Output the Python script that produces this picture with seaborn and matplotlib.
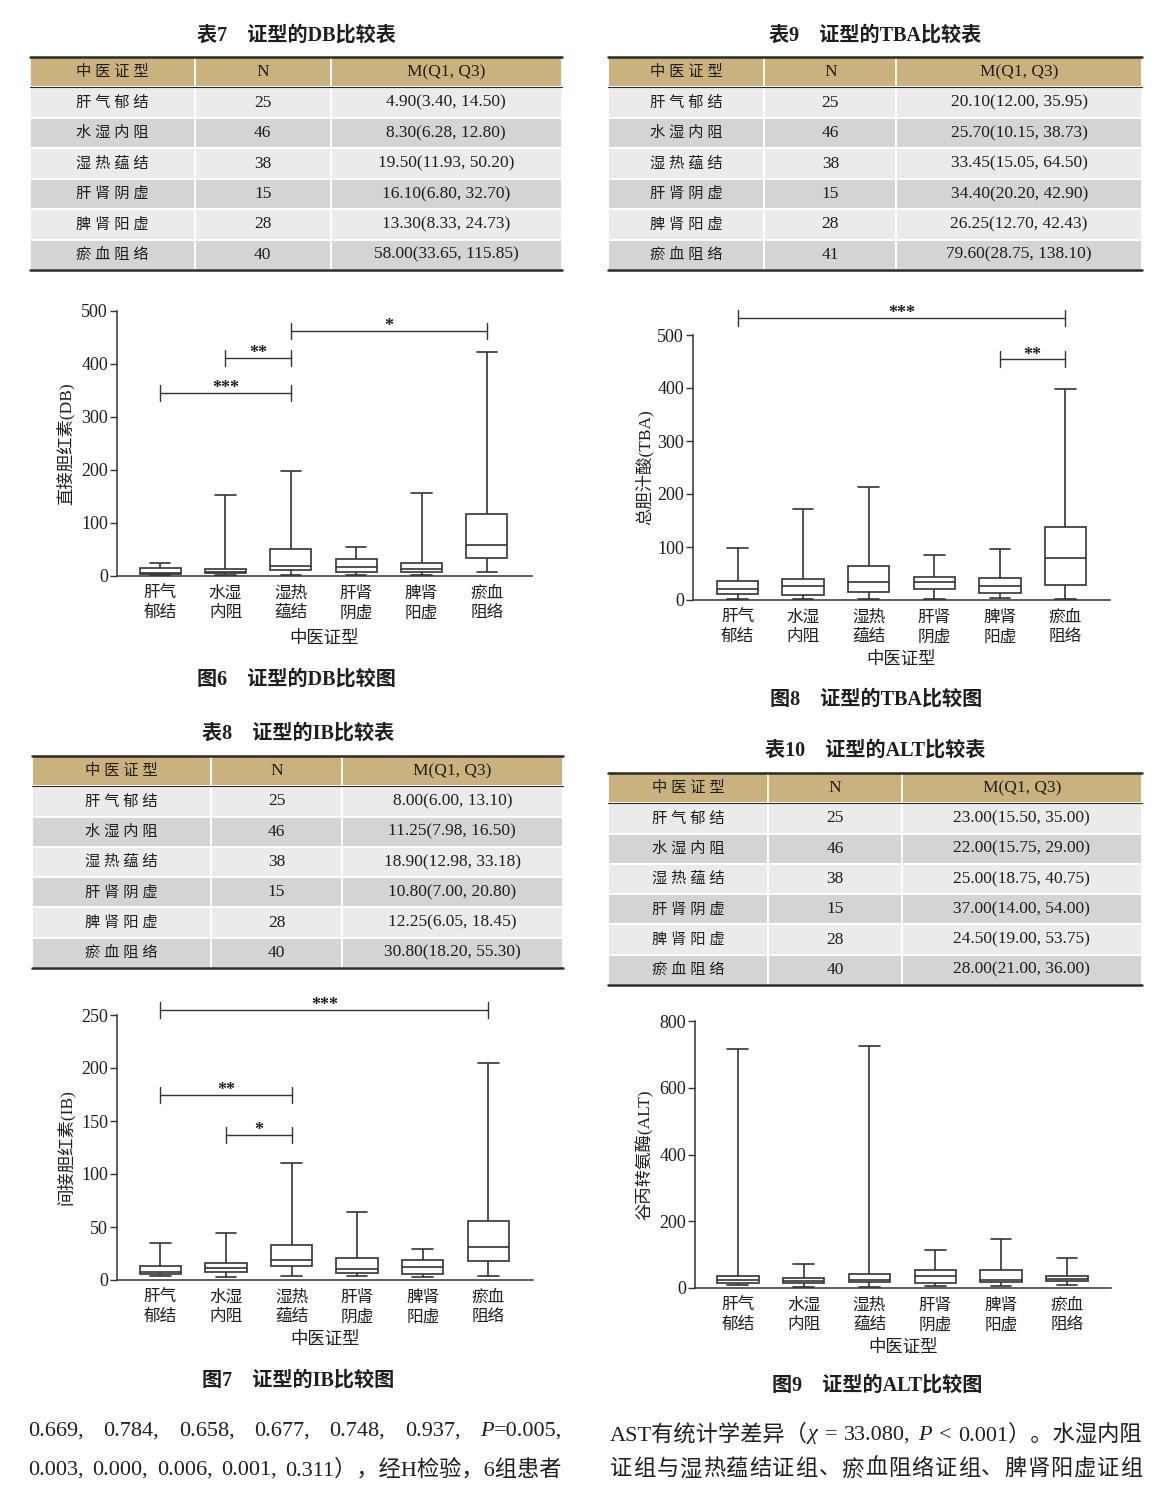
import matplotlib
matplotlib.use("Agg")
import matplotlib.pyplot as plt
import numpy as np
import pandas as pd
import seaborn as sns

groups = ["肝气郁结", "水湿内阻", "湿热蕴结", "肝肾阴虚", "脾肾阳虚", "瘀血阻络"]

# 表7 / 图6  DB
db_n = [25, 46, 38, 15, 28, 40]
db_med = [4.90, 8.30, 19.50, 16.10, 13.30, 58.00]
db_q1 = [3.40, 6.28, 11.93, 6.80, 8.33, 33.65]
db_q3 = [14.50, 12.80, 50.20, 32.70, 24.73, 115.85]
db_min = [1.5, 1.5, 2.0, 2.0, 2.0, 7.5]
db_max = [25, 152, 198, 55, 156, 421]
db_sig = [(0, 2, 345, "***"), (1, 2, 411, "**"), (2, 5, 462, "*")]

# 表8 / 图7  IB
ib_n = [25, 46, 38, 15, 28, 40]
ib_med = [8.00, 11.25, 18.90, 10.80, 12.25, 30.80]
ib_q1 = [6.00, 7.98, 12.98, 7.00, 6.05, 18.20]
ib_q3 = [13.10, 16.50, 33.18, 20.80, 18.45, 55.30]
ib_min = [4, 3, 4, 4, 2.5, 4]
ib_max = [35, 44, 110, 64, 29, 205]
ib_sig = [(0, 5, 255, "***"), (0, 2, 175, "**"), (1, 2, 137, "*")]

# 表9 / 图8  TBA
tba_n = [25, 46, 38, 15, 28, 41]
tba_med = [20.10, 25.70, 33.45, 34.40, 26.25, 79.60]
tba_q1 = [12.00, 10.15, 15.05, 20.20, 12.70, 28.75]
tba_q3 = [35.95, 38.73, 64.50, 42.90, 42.43, 138.10]
tba_min = [1.3, 1, 1, 2, 3, 1]
tba_max = [99, 172, 214, 84, 96, 399]
tba_sig = [(0, 5, 533, "***"), (4, 5, 454, "**")]

# 表10 / 图9  ALT
alt_n = [25, 46, 38, 15, 28, 40]
alt_med = [23.00, 22.00, 25.00, 37.00, 24.50, 28.00]
alt_q1 = [15.50, 15.75, 18.75, 14.00, 19.00, 21.00]
alt_q3 = [35.00, 29.00, 40.75, 54.00, 53.75, 36.00]
alt_min = [8, 3, 3, 5, 7, 9]
alt_max = [717, 71, 726, 113, 147, 91]

W, H = 1170, 1494
INK = "#333333"
TXT = "#1e1e1e"
HEAD = "#c9b27e"
LIGHT = "#ebebeb"
DARK = "#d4d4d4"

sns.set_theme(style="ticks")
plt.rcParams["font.family"] = ["Liberation Serif", "Noto Sans CJK SC"]
plt.rcParams["axes.unicode_minus"] = False

fig = plt.figure(figsize=(W / 100, H / 100), dpi=100, facecolor="white")


def rect(l, t, r, b):
    return [l / W, 1 - b / H, (r - l) / W, (b - t) / H]


def ftext(x, y, s, **kw):
    return fig.text(x / W, 1 - y / H, s, ha="center", va="center", color=TXT, **kw)


def table(l, t, r, b, colw, n, med, q1, q3):
    ax = fig.add_axes(rect(l, t, r, b))
    ax.set_axis_off()
    cells = [[" ".join(g), str(k), f"{m:.2f}({a:.2f}, {c:.2f})"]
             for g, k, m, a, c in zip(groups, n, med, q1, q3)]
    tb = ax.table(cellText=cells, colLabels=[" ".join("中医证型"), "N", "M(Q1, Q3)"],
                  colWidths=colw, cellLoc="center", bbox=[0, 0, 1, 1])
    tb.auto_set_font_size(False)
    for (i, j), cell in tb.get_celld().items():
        cell.set_edgecolor("white")
        cell.set_linewidth(1.3)
        cell.set_facecolor(HEAD if i == 0 else (LIGHT if i % 2 else DARK))
        cell.get_text().set_fontsize(12.5 if j else 11)
        cell.get_text().set_color(TXT)
    for y, lw in [(1, 1.8), (6 / 7, 0.8), (0, 1.8)]:
        ax.plot([0, 1], [y, y], color="#2b2b2b", lw=lw, transform=ax.transAxes,
                clip_on=False, zorder=5)


def boxchart(l, t, r, b, xlim, top, step, ylab, ylab_x, xlab_y, vals, sig):
    ax = fig.add_axes(rect(l, t, r, b))
    df = pd.DataFrame({"证型": np.repeat(groups, 5),
                       "值": np.column_stack(vals).ravel()})
    sns.boxplot(data=df, x="证型", y="值", order=groups, ax=ax, width=0.63,
                whis=(0, 100), color="white", linecolor=INK, linewidth=1.2,
                showfliers=False)
    ax.set_xlim(*xlim)
    ax.set_ylim(0, top)
    ax.set_yticks(np.arange(0, top + 1, step))
    ax.set_xticks(range(6), [g[:2] + "\n" + g[2:] for g in groups])
    for lab in ax.get_xticklabels():
        lab.set_linespacing(1.3)
    ax.tick_params(axis="x", length=0, pad=7, labelsize=12, labelcolor=TXT)
    ax.tick_params(axis="y", length=5, width=1.0, color=INK, labelsize=13,
                   pad=1.5, labelcolor=TXT)
    sns.despine(ax=ax)
    for s in ["left", "bottom"]:
        ax.spines[s].set_linewidth(1.1)
        ax.spines[s].set_color(INK)
    ax.set_xlabel("中医证型", fontsize=12.5, color=TXT, va="center")
    ax.set_ylabel(ylab, fontsize=12.5, color=TXT, va="center")
    ax.yaxis.set_label_coords((ylab_x - l) / (r - l), 0.5)
    ax.xaxis.set_label_coords(0.5, -(xlab_y - b) / (b - t))
    tick = 8 / (b - t) * top
    for a, c, y, stars in sig:
        kw = dict(color=INK, lw=1.0, clip_on=False)
        ax.plot([a, c], [y, y], **kw)
        ax.plot([a, a], [y - tick, y + tick], **kw)
        ax.plot([c, c], [y - tick, y + tick], **kw)
        ax.annotate(stars, ((a + c) / 2, y), xytext=(0, -0.5), textcoords="offset points",
                    ha="center", va="baseline", fontsize=13, fontweight="bold",
                    color=TXT, annotation_clip=False)
    return ax


def justify(y, x0, x1, words, size):
    rend = fig.canvas.get_renderer()
    placed, total = [], 0
    for word in words:
        parts = []
        for s, st in word:
            tt = fig.text(0, 1 - y / H, s, fontsize=size, style=st, ha="left",
                          va="center", color=TXT)
            w = tt.get_window_extent(rend).width
            parts.append((tt, w))
            total += w
        placed.append(parts)
    gap = (x1 - x0 - total) / max(len(words) - 1, 1)
    x = x0
    for parts in placed:
        for tt, w in parts:
            tt.set_x(x / W)
            x += w
        x += gap


# ---- tables ----
ftext(296, 36, "表7\u3000证型的DB比较表", fontsize=14.5, fontweight="bold")
table(30, 57, 562, 270, [0.31, 0.255, 0.435], db_n, db_med, db_q1, db_q3)
ftext(298, 734, "表8\u3000证型的IB比较表", fontsize=14.5, fontweight="bold")
table(32, 756, 563, 968, [0.338, 0.245, 0.417], ib_n, ib_med, ib_q1, ib_q3)
ftext(875, 36, "表9\u3000证型的TBA比较表", fontsize=14.5, fontweight="bold")
table(608, 57, 1142, 270, [0.293, 0.247, 0.46], tba_n, tba_med, tba_q1, tba_q3)
ftext(875, 751, "表10\u3000证型的ALT比较表", fontsize=14.5, fontweight="bold")
table(608, 773, 1142, 985, [0.30, 0.25, 0.45], alt_n, alt_med, alt_q1, alt_q3)

# ---- box plots ----
boxchart(117, 310.5, 532, 576, (-0.66, 5.69), 500, 100, "直接胆红素(DB)", 65, 639,
         [db_min, db_q1, db_med, db_q3, db_max], db_sig)
boxchart(117, 1015, 533, 1280, (-0.66, 5.68), 250, 50, "间接胆红素(IB)", 66, 1340,
         [ib_min, ib_q1, ib_med, ib_q3, ib_max], ib_sig)
boxchart(693, 335, 1110, 600, (-0.68, 5.68), 500, 100, "总胆汁酸(TBA)", 644, 660,
         [tba_min, tba_q1, tba_med, tba_q3, tba_max], tba_sig)
boxchart(695, 1021, 1111, 1288, (-0.65, 5.67), 800, 200, "谷丙转氨酶(ALT)", 645, 1348,
         [alt_min, alt_q1, alt_med, alt_q3, alt_max], [])

ftext(296, 680, "图6\u3000证型的DB比较图", fontsize=14.5, fontweight="bold")
ftext(298, 1381, "图7\u3000证型的IB比较图", fontsize=14.5, fontweight="bold")
ftext(876, 700, "图8\u3000证型的TBA比较图", fontsize=14.5, fontweight="bold")
ftext(877, 1386, "图9\u3000证型的ALT比较图", fontsize=14.5, fontweight="bold")

# ---- body text ----
n_, i_ = "normal", "italic"
justify(1431, 28, 562, [[("0.669,", n_)], [("0.784,", n_)], [("0.658,", n_)],
                        [("0.677,", n_)], [("0.748,", n_)], [("0.937,", n_)],
                        [("P", i_), ("=0.005,", n_)]], 16)
justify(1470, 28, 562, [[("0.003,", n_)], [("0.000,", n_)], [("0.006,", n_)],
                        [("0.001,", n_)], [("0.311），经H检验，6组患者", n_)]], 16)
justify(1435, 610, 1142, [[("AST有统计学差异（", n_), ("χ", i_)], [("=", n_)],
                          [("33.080,", n_)], [("P", i_)], [("<", n_)],
                          [("0.001）。水湿内阻", n_)]], 16)
justify(1470, 610, 1142, [[(ch, n_)] for ch in "证组与湿热蕴结证组、瘀血阻络证组、脾肾阳虚证组"], 16)

fig.savefig("out.png", dpi=100, facecolor="white")
